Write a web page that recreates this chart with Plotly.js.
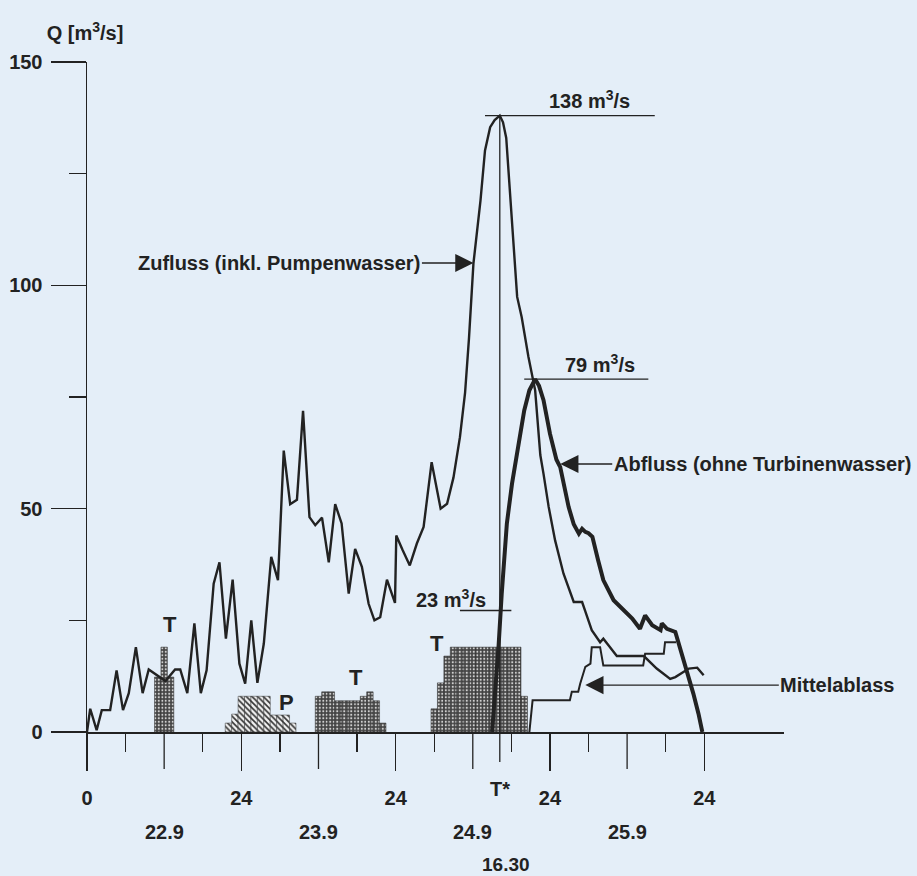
<!DOCTYPE html>
<html>
<head>
<meta charset="utf-8">
<script src="https://cdn.plot.ly/plotly-3.0.1.min.js"></script>
<style>html,body{margin:0;padding:0;background:#e4eef8;}</style>
</head>
<body>
<div id="chart" style="width:917px;height:876px;"></div>
<script>
// ---- Data (hours since 22.9 00:00, discharge in m3/s) ----
const zuflussHours = [0,0.5,1.5,2.3,3.6,4.6,5.6,6.5,7.6,8.65,9.6,10.6,12.2,13.7,14.5,15.6,16.7,17.7,18.6,19.7,20.6,21.6,22.65,23.7,24.6,25.55,26.5,27.5,28.65,29.7,30.6,31.6,32.65,33.6,34.6,35.5,36.55,37.6,38.6,39.6,40.7,41.7,42.75,43.8,44.7,45.6,46.65,47.9,48.1,49.1,50.2,51.3,52.35,53.6,55,56,57,58,58.8,59.4,60.1,61.2,61.9,62.7,63.4,64.2,64.7,65.2,65.7,66.3,66.9,67.6,68.65,69.7,70.5,71,71.8,72.8,74.1,75.7,77,77.5,78.5,79.8,80.3,81.1,82.4,86.6,87.3,88.6,90.7,91.5,93.6,94.9,95.9];
const zuflussQ     = [0,5.2,0.4,4.9,4.9,13.8,4.9,8.7,19,8.7,14,13,11.4,14,14,8.7,24.3,8.7,13.8,33.2,38,20.9,34.1,15.3,10.8,25,11,19.8,39.2,34,63,51,52,71.9,48.1,46.3,48,38,51,46.7,31,41,37,28.7,25,25.7,34.1,28.9,44,40.7,37.3,42.2,45.9,60.4,50,51.1,57,66,76,88,104.9,119,130.2,135.4,137,138,136.5,133,122.8,110,97.4,92.9,84,76.5,62,57.8,50.4,42.9,35.5,29.1,29.1,27,22.8,20.1,20.9,19.4,17,17,16,14.2,11.9,12.3,14.2,14.4,12.7];

const abflussHours = [63.0,63.6,64.0,64.5,65.3,66.1,67.1,68.0,68.8,69.7,70.3,71,72,73,73.6,74.9,75.7,76.5,77.0,77.5,78.0,78.6,79.5,80.3,81.9,83.2,84.8,86.0,86.8,87.9,89.2,89.4,90.2,91.5,92.2,93.3,94.3,95.1,95.7];
const abflussQ     = [0,10,19,31,46.7,55.6,64,72,76.5,79,77.5,74.3,66.8,61,59.3,50.4,46.5,44.4,45.5,44.8,44.5,43.7,38.4,34,29.5,27.6,25.4,23.1,26.1,23.9,22.8,24.3,23.1,22.4,19,13.8,8.6,4.1,0];

const mittelHours = [68.8,69.3,75.1,75.4,76.4,76.7,77.5,78.3,78.5,79.8,80.3,86.5,86.8,89.7,89.9,91.6];
const mittelQ     = [0,7.1,7.1,9,9,10.8,14.6,15.3,19,19,14.9,14.9,17.5,17.5,20.1,20.1];

// Turbine (T) and pump (P) operation, hourly
const turbHours = [11,12,13, 36,37,38,39,40,41,42,43,44,45,46, 54,55,56,57,58,59,60,61,62,63,64,65,66,67,68];
const turbQ     = [12.3,19,12.3, 8,9,9,7,7,7,7,8,9,7,2, 5.2,11,17,19,19,19,19,19,19,19,19,19,19,19,8];
const pumpHours = [22,23,24,25,26,27,28,29,30,31,32];
const pumpQ     = [2,4,8,8,8,8,8,3.8,3.8,3.8,2];

// Axis ticks and labels
const dayTickHours  = [0,24,48,72,96];
const dayTickText   = ['0','24','24','24','24'];
const noonTickHours = [12,36,60,84];
const minorTickHours = [6,18,30,42,54,66,78,90];
const dateLabels = ['22.9','23.9','24.9','25.9'];
const yTicks = [0,50,100,150];
const yMinor = [25,75,125];

// Event markers
const tStarHour = 64.2;
const peakIn = 138, peakOut = 79, outAtTstar = 23;

const INK = '#222222';
const BG = '#e4eef8';
const F = 'Liberation Sans, Arial, Helvetica, sans-serif';
const yPix = 670; // plot height in px

const traces = [
  {type:'bar', x:turbHours, y:turbQ, width:1,
   marker:{color:'#4a4a4a', line:{color:'#2a2a2a', width:0.5},
           pattern:{shape:'.', fgcolor:'#d0d0d0', bgcolor:'#454545', size:3.5, solidity:0.3}},
   hoverinfo:'skip'},
  {type:'bar', x:pumpHours, y:pumpQ, width:1,
   marker:{color:'#eeeeee', line:{color:'#333', width:0.5},
           pattern:{shape:'\\', fgcolor:'#333333', bgcolor:'#f2f2f2', size:4, solidity:0.4}},
   hoverinfo:'skip'},
  {type:'scatter', mode:'lines', x:zuflussHours, y:zuflussQ, line:{color:INK, width:2.4}},
  {type:'scatter', mode:'lines', x:mittelHours, y:mittelQ, line:{color:INK, width:2}},
  {type:'scatter', mode:'lines', x:abflussHours, y:abflussQ, line:{color:INK, width:4}}
];

const bold = (o) => Object.assign({family:F, size:20, color:INK, weight:'bold'}, o||{});
const annotations = [
  {x:60.1, y:105, ax:-194, ay:0, text:'Zufluss (inkl. Pumpenwasser)', showarrow:true, arrowhead:2, arrowsize:2.8, arrowwidth:1.3, arrowcolor:INK},
  {x:73.6, y:60, ax:202, ay:0, text:'Abfluss (ohne Turbinenwasser)', showarrow:true, arrowhead:2, arrowsize:2.8, arrowwidth:1.3, arrowcolor:INK},
  {x:77.5, y:10.5, ax:252, ay:0, text:'Mittelablass', showarrow:true, arrowhead:2, arrowsize:2.8, arrowwidth:1.3, arrowcolor:INK},
  {x:78.2, y:peakIn+3.5, text:peakIn+' m<sup>3</sup>/s', showarrow:false},
  {x:79.8, y:peakOut+3.5, text:peakOut+' m<sup>3</sup>/s', showarrow:false},
  {x:56.6, y:30, text:outAtTstar+' m<sup>3</sup>/s', showarrow:false},
  {x:12.9, y:24, text:'T', showarrow:false, font:{size:22}},
  {x:41.9, y:12.3, text:'T', showarrow:false, font:{size:22}},
  {x:54.4, y:19.8, text:'T', showarrow:false, font:{size:22}},
  {x:31.1, y:6.7, text:'P', showarrow:false, font:{size:22}},
  {x:tStarHour, y:-57/yPix, yref:'paper', text:'T*', showarrow:false},
  {x:65.2, y:-132/yPix, yref:'paper', text:'16.30', showarrow:false, font:{size:19}}
].map(a => Object.assign({xref:'x', yref:'y', yanchor:'middle'}, a, {font:bold(a.font)}));
noonTickHours.forEach((h,i) => annotations.push({x:h, xref:'x', y:-100/yPix, yref:'paper', yanchor:'middle', text:dateLabels[i], showarrow:false, font:bold()}));

const shapes = [
  {type:'line', xref:'x', yref:'y', x0:tStarHour, x1:tStarHour, y0:0, y1:peakIn, line:{color:INK, width:1.3}},
  {type:'line', xref:'x', yref:'paper', x0:tStarHour, x1:tStarHour, y0:0, y1:-30/yPix, line:{color:INK, width:1.3}},
  {type:'line', xref:'x', yref:'y', x0:61.9, x1:88.3, y0:peakIn, y1:peakIn, line:{color:INK, width:1.3}},
  {type:'line', xref:'x', yref:'y', x0:68, x1:87.3, y0:peakOut, y1:peakOut, line:{color:INK, width:1.3}},
  {type:'line', xref:'x', yref:'y', x0:58, x1:66, y0:27.2, y1:27.2, line:{color:INK, width:1.3}}
];
// long ticks at noon of each day
noonTickHours.forEach(h => shapes.push({type:'line', xref:'x', yref:'paper', x0:h, x1:h, y0:0, y1:-37/yPix, line:{color:INK, width:1.3}}));

const layout = {
  width:917, height:876,
  paper_bgcolor:BG, plot_bgcolor:BG,
  margin:{l:87, r:133, t:62, b:144},
  showlegend:false, bargap:0, barmode:'overlay',
  font:{family:F, size:20, color:INK},
  title:{text:'Q [m<sup>3</sup>/s]', x:85/917, xanchor:'center', y:1-33/876, yanchor:'middle', font:bold()},
  xaxis:{range:[0,108.4], showgrid:false, zeroline:false, showline:true, linecolor:INK, linewidth:1.5,
         tickmode:'array', tickvals:dayTickHours, ticktext:dayTickText,
         ticks:'outside', ticklen:37, tickwidth:1.3, tickcolor:INK,
         minor:{tickmode:'array', tickvals:minorTickHours, ticks:'outside', ticklen:18, tickwidth:1.3, tickcolor:INK, showgrid:false},
         tickfont:bold(), ticklabelstandoff:10, fixedrange:true},
  yaxis:{range:[0,150], showgrid:false, zeroline:false, showline:true, linecolor:INK, linewidth:1.5,
         tickmode:'array', tickvals:yTicks,
         ticks:'outside', ticklen:35, tickwidth:1.3, tickcolor:INK,
         minor:{tickmode:'array', tickvals:yMinor, ticks:'outside', ticklen:17, tickwidth:1.3, tickcolor:INK, showgrid:false},
         tickfont:bold(), ticklabelstandoff:4, fixedrange:true},
  annotations:annotations,
  shapes:shapes
};

Plotly.newPlot('chart', traces, layout, {displayModeBar:false, staticPlot:true});
</script>
</body>
</html>
